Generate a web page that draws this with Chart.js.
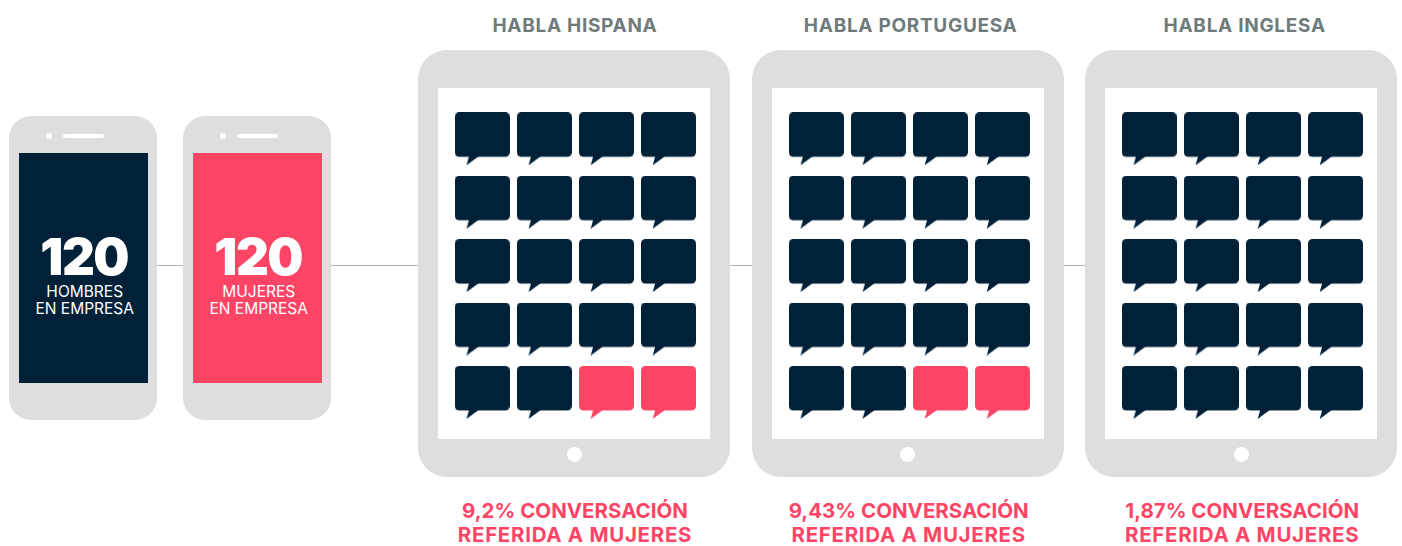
<!DOCTYPE html>
<html lang="es">
<head>
<meta charset="UTF-8">
<title>Conversación referida a mujeres</title>
<script src="https://cdn.jsdelivr.net/npm/chart.js"></script>
<style>
    body { margin: 0; width: 1402px; height: 546px; position: relative; overflow: hidden; background: #fff; font-family: Inter, "Open Sans", sans-serif; }
    div, canvas { position: absolute; }
    .wire { height: 1px; top: 265px; background: #aab5b7; }

    .phone { left: 9px; top: 116px; width: 148px; height: 304px; border-radius: 22px; background: #dedede; }
    .phone .dot { left: 37px; top: 17px; width: 6px; height: 6px; border-radius: 50%; background: #fff; }
    .phone .speaker { left: 54px; top: 18px; width: 41px; height: 4px; border-radius: 2px; background: #fff; }
    .phone .screen { left: 10px; top: 37px; width: 128.5px; height: 229.5px; color: #fff; text-align: center; }
    .phone .num { left: 1px; width: 100%; top: 76px; font-size: 51px; line-height: 56px; font-weight: 900; letter-spacing: -1.5px; }
    .phone .lab { left: 1.5px; width: 100%; top: 130px; font-size: 15.5px; line-height: 17px; font-weight: 400; }

    .tablet { top: 50px; width: 312px; height: 427px; border-radius: 29px; background: #dedede; }
    .tablet .screen { left: 20px; top: 38px; width: 272px; height: 351px; background: #fff; }
    .tablet .home { left: 148.5px; top: 397px; width: 15px; height: 15px; border-radius: 50%; background: #fff; }
    .title { width: 312px; top: 14px; text-align: center; font-size: 19px; line-height: 24px; font-weight: 700; letter-spacing: 0.7px; color: #6f7b7b; }
    .note { width: 312px; top: 499px; text-align: center; font-size: 20.5px; line-height: 24px; font-weight: 700; color: #ff4566; }
    .note span { letter-spacing: 0.7px; }
</style>
</head>
<body>
<div class="wire" style="left:157px;width:26px"></div>
<div class="wire" style="left:331px;width:87px"></div>
<div class="wire" style="left:730px;width:22px"></div>
<div class="wire" style="left:1063px;width:23px"></div>
<div id="devices"></div>

<script>
    const phoneValues = [120, 120];
    const phoneLabels = [['HOMBRES', 'EN EMPRESA'], ['MUJERES', 'EN EMPRESA']];
    const phoneColors = ['#012139', '#ff4566'];

    const languages = ['HABLA HISPANA', 'HABLA PORTUGUESA', 'HABLA INGLESA'];
    const shares = ['9,2%', '9,43%', '1,87%'];
    const columns = ['1', '2', '3', '4'];
    const rows = ['1', '2', '3', '4', '5'];
    const womenBubbles = [2, 2, 0];   // red bubbles, counted from the end of the last row

    const navy = '#012139';
    const pink = '#ff4566';
    const devices = document.getElementById('devices');

    // Phones
    const phoneLeft = [9, 183];
    phoneValues.forEach((value, i) => {
        const phone = document.createElement('div');
        phone.className = 'phone';
        phone.style.left = phoneLeft[i] + 'px';
        phone.innerHTML = '<div class="dot"></div><div class="speaker"></div>' +
            '<div class="screen" style="background:' + phoneColors[i] + '">' +
            '<div class="num">' + value + '</div>' +
            '<div class="lab">' + phoneLabels[i].join('<br>') + '</div></div>';
        devices.appendChild(phone);
    });

    // Speech bubble used as the point style
    function bubble(color) {
        const c = document.createElement('canvas');
        c.width = 55;
        c.height = 53;
        const g = c.getContext('2d');
        g.fillStyle = color;
        g.beginPath();
        g.roundRect(0, 0, 55, 44.5, 4.5);
        g.fill();
        g.beginPath();
        g.moveTo(14.5, 43);
        g.lineTo(11.7, 53);
        g.lineTo(24, 44);
        g.closePath();
        g.fill();
        return c;
    }
    const navyBubble = bubble(navy);
    const pinkBubble = bubble(pink);

    // Tablets, one chart per language
    const tabletLeft = [418, 751.7, 1085.2];
    const titleShift = [1, 3, 3.5];   // headings sit a little right of their tablet
    languages.forEach((language, i) => {
        const title = document.createElement('div');
        title.className = 'title';
        title.style.left = (tabletLeft[i] + titleShift[i]) + 'px';
        title.textContent = language;
        devices.appendChild(title);

        const tablet = document.createElement('div');
        tablet.className = 'tablet';
        tablet.style.left = tabletLeft[i] + 'px';
        tablet.innerHTML = '<div class="screen"><canvas width="272" height="351"></canvas></div><div class="home"></div>';
        devices.appendChild(tablet);

        const note = document.createElement('div');
        note.className = 'note';
        note.style.left = (tabletLeft[i] + 1) + 'px';
        note.innerHTML = shares[i] + ' CONVERSACIÓN<br><span>REFERIDA A MUJERES</span>';
        devices.appendChild(note);

        const men = [];
        const women = [];
        const total = rows.length * columns.length;
        rows.forEach((row, r) => columns.forEach((col, c) => {
            const n = r * columns.length + c;
            (n >= total - womenBubbles[i] ? women : men).push({ x: col, y: row });
        }));

        new Chart(tablet.querySelector('canvas'), {
            type: 'scatter',
            data: {
                datasets: [
                    { label: 'Hombres', data: men, pointStyle: navyBubble },
                    { label: 'Mujeres', data: women, pointStyle: pinkBubble }
                ]
            },
            options: {
                responsive: false,
                animation: false,
                layout: { padding: { left: 13.15, right: 10.45, top: 19.1, bottom: 14.9 } },
                plugins: { legend: { display: false }, tooltip: { enabled: false } },
                scales: {
                    x: { type: 'category', labels: columns, offset: true, display: false },
                    y: { type: 'category', labels: rows, offset: true, display: false }
                }
            }
        });
    });
</script>
</body>
</html>
